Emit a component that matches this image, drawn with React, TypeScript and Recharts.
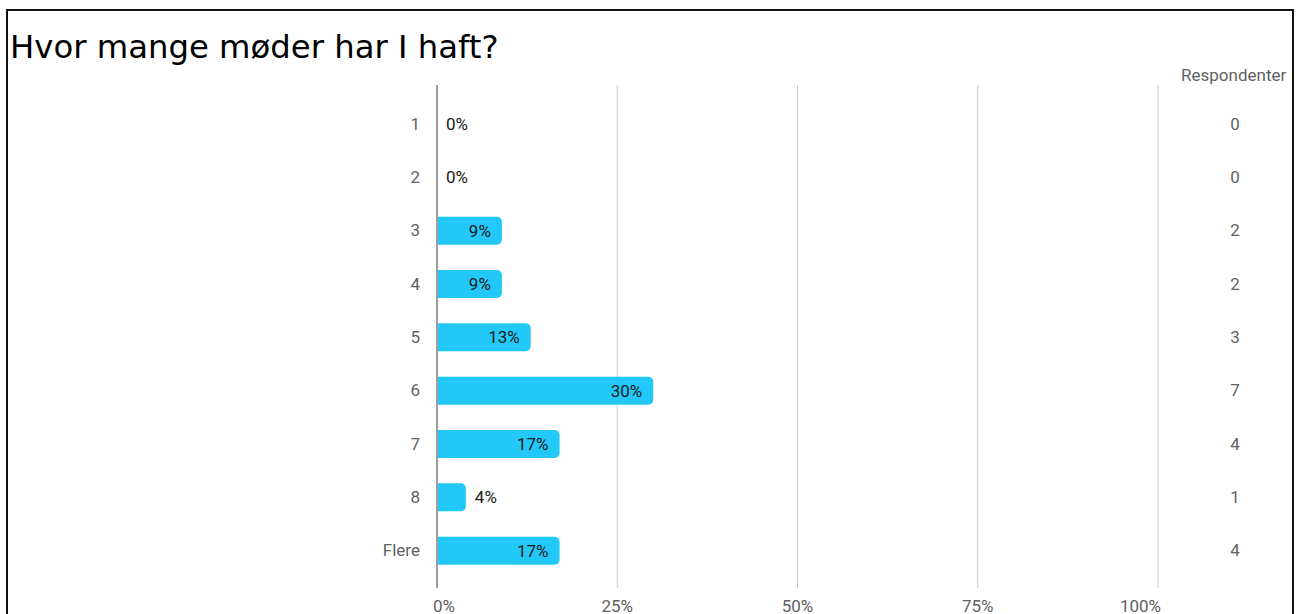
import React from 'react';
import { BarChart, Bar, XAxis, YAxis, CartesianGrid, LabelList } from 'recharts';

const categories = ['1', '2', '3', '4', '5', '6', '7', '8', 'Flere'];
const percents = [0, 0, 9, 9, 13, 30, 17, 4, 17];
const respondents = [0, 0, 2, 2, 3, 7, 4, 1, 4];
const xTicks = [0, 25, 50, 75, 100];

const data = categories.map((name, i) => ({ name, pct: percents[i], count: respondents[i] }));

const BAR_COLOR = '#22C9F8';
const TICK_GRAY = '#616161';

// label sits inside the bar end, or just after it when the bar is too short
const renderBarLabel = (props: any) => {
  const { x, y, width, height, value } = props;
  const w = width < 1 ? 0 : width;
  const inside = w > 40;
  return (
    <text
      x={inside ? x + w - 11 : x + w + 9}
      y={y + height / 2}
      textAnchor={inside ? 'end' : 'start'}
      dominantBaseline="central"
      fill="#202020"
      fontSize={17}
      fontFamily="Roboto"
    >
      {`${Math.round(value)}%`}
    </text>
  );
};

const renderXTick = (props: any) => {
  const { x, y, payload } = props;
  const v = payload.value;
  let anchor: 'middle' | 'start' | 'end' = 'middle';
  let px = x;
  if (v === 0) { anchor = 'start'; px = x - 4; }
  if (v === 100) { anchor = 'end'; px = x + 3; }
  return (
    <text x={px} y={y} dy="0.71em" textAnchor={anchor} fill={TICK_GRAY} fontSize={17} fontFamily="Roboto">
      {`${v}%`}
    </text>
  );
};

export default function App() {
  return (
    <div style={{ position: 'absolute', left: 0, top: 0, width: 1301, height: 614, overflow: 'hidden', background: '#fff' }}>
      <div
        style={{
          position: 'absolute', left: 6, top: 9, width: 1288, height: 640,
          border: '2px solid #111', boxSizing: 'border-box',
        }}
      />
      <div
        style={{
          position: 'absolute', left: 10, top: 31, fontFamily: 'DejaVu Sans', fontSize: 32.3,
          lineHeight: 1, color: '#000', whiteSpace: 'nowrap',
        }}
      >
        Hvor mange møder har I haft?
      </div>
      <div
        style={{
          position: 'absolute', left: 1181, top: 67, fontFamily: 'Roboto', fontSize: 17,
          lineHeight: 1, color: TICK_GRAY, whiteSpace: 'nowrap',
        }}
      >
        Respondenter
      </div>
      <BarChart
        width={1301}
        height={614}
        data={data}
        layout="vertical"
        margin={{ top: 85, right: 0, bottom: 0, left: 377 }}
        style={{ position: 'absolute', left: 0, top: 0 }}
      >
        <CartesianGrid horizontal={false} stroke="#cccccc" />
        <XAxis
          type="number"
          dataKey="pct"
          domain={[0, 100]}
          ticks={xTicks}
          axisLine={false}
          tickLine={false}
          tickSize={0}
          tickMargin={12}
          height={26}
          tick={renderXTick}
        />
        <YAxis
          type="category"
          dataKey="name"
          yAxisId="left"
          width={60}
          padding={{ top: 12, bottom: 11 }}
          axisLine={{ stroke: '#9e9e9e', strokeWidth: 2 }}
          tickLine={false}
          tickSize={0}
          tickMargin={17}
          tick={{ fill: TICK_GRAY, fontSize: 17, fontFamily: 'Roboto' }}
        />
        <YAxis
          type="category"
          dataKey="name"
          yAxisId="right"
          orientation="right"
          width={143}
          padding={{ top: 12, bottom: 11 }}
          axisLine={false}
          tickLine={false}
          tickSize={0}
          tickMargin={77}
          tickFormatter={(_v: any, i: number) => String(respondents[i])}
          tick={{ fill: TICK_GRAY, fontSize: 17, fontFamily: 'Roboto', textAnchor: 'middle' }}
        />
        <Bar
          dataKey="pct"
          yAxisId="left"
          fill={BAR_COLOR}
          barSize={28}
          radius={[0, 5, 5, 0]}
          minPointSize={0.1}
          isAnimationActive={false}
        >
          <LabelList dataKey="pct" content={renderBarLabel} />
        </Bar>
      </BarChart>
    </div>
  );
}
